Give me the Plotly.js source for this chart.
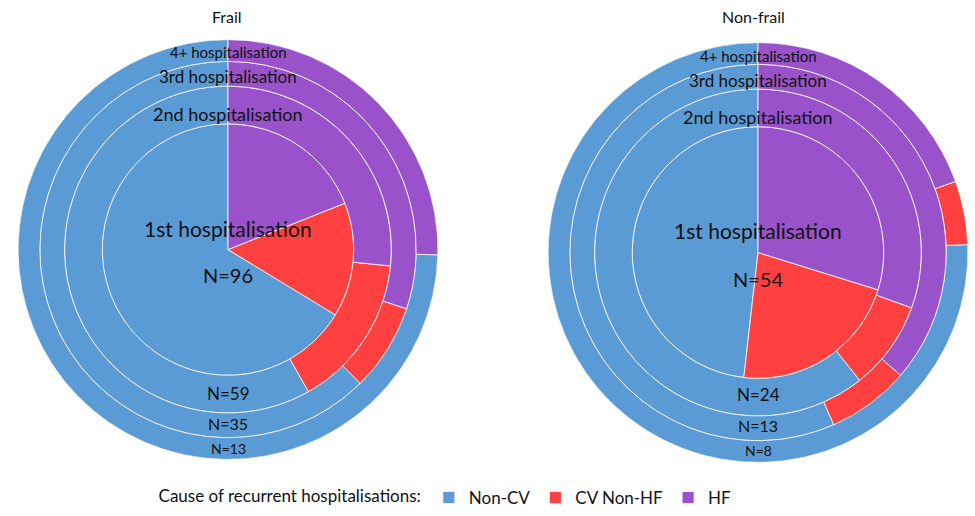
<!DOCTYPE html>
<html>
<head>
<meta charset="utf-8">
<script src="https://cdn.plot.ly/plotly-3.0.1.min.js"></script>
<style>html,body{margin:0;padding:0;background:#fff;}#chart{width:975px;height:516px;}</style>
</head>
<body>
<div id="chart"></div>
<script>
// ---- data (percent of hospitalisations at each level) ----
const levelNames = ['1st hospitalisation', '2nd hospitalisation', '3rd hospitalisation', '4+ hospitalisation'];
const categories = ['Non-CV', 'CV Non-HF', 'HF'];

const frailHF     = [19.0, 26.6, 30.1, 25.4];
const frailCV     = [14.7, 15.2, 7.5, 0.0];
const frailNonCV  = [66.3, 58.2, 62.4, 74.6];
const frailN      = [96, 59, 35, 13];

const nonfrailHF    = [29.8, 30.5, 36.3, 19.5];
const nonfrailCV    = [22.0, 8.8, 7.1, 4.9];
const nonfrailNonCV = [48.2, 60.7, 56.6, 75.6];
const nonfrailN     = [54, 24, 13, 8];

const groupTitles = ['Frail', 'Non-frail'];

// ---- styling / geometry ----
const colors = {'Non-CV': '#5B9BD5', 'CV Non-HF': '#FF4040', 'HF': '#9952C9'};
const ringOuter = [127, 165, 190, 212];
const FONT = 'Lato, "Liberation Sans", Arial, sans-serif';
const W = 975, H = 516;

function buildTraces(HF, CV, NonCV, subplot, showLegend) {
  // clockwise from 12 o'clock: HF, CV Non-HF, Non-CV
  const byCat = {'HF': HF, 'CV Non-HF': CV, 'Non-CV': NonCV};
  const order = ['HF', 'CV Non-HF', 'Non-CV'];
  const geo = {};
  order.forEach(c => geo[c] = {r: [], base: [], theta: [], width: []});
  for (let i = 0; i < levelNames.length; i++) {
    let start = 0;
    const inner = i === 0 ? 0 : ringOuter[i - 1];
    order.forEach(c => {
      const v = byCat[c][i];
      const w = v * 3.6;
      if (v > 0) {
        geo[c].r.push(ringOuter[i] - inner);
        geo[c].base.push(inner);
        geo[c].theta.push(start + w / 2);
        geo[c].width.push(w);
      }
      start += w;
    });
  }
  return categories.map(c => ({
    type: 'barpolar',
    name: c,
    subplot: subplot,
    r: geo[c].r, base: geo[c].base, theta: geo[c].theta, width: geo[c].width,
    marker: {color: colors[c], line: {color: 'rgba(238,238,238,0.95)', width: 1}},
    showlegend: showLegend,
    legendgroup: c,
    hoverinfo: 'skip'
  }));
}

const traces = [
  ...buildTraces(frailHF, frailCV, frailNonCV, 'polar', true),
  ...buildTraces(nonfrailHF, nonfrailCV, nonfrailNonCV, 'polar2', false)
];

function polarCfg(cx, cy) {
  const R = ringOuter[ringOuter.length - 1];
  return {
    domain: {x: [(cx - R) / W, (cx + R) / W], y: [(H - cy - R) / H, (H - cy + R) / H]},
    bgcolor: 'rgba(0,0,0,0)',
    radialaxis: {visible: false, range: [0, R]},
    angularaxis: {visible: false, direction: 'clockwise', rotation: 90},
    bargap: 0
  };
}

// label annotations (pixel positions of text centres)
function ann(text, px, py, size) {
  return {text: text, x: px / W, y: 1 - py / H, xref: 'paper', yref: 'paper',
          xanchor: 'center', yanchor: 'middle', showarrow: false,
          font: {family: FONT, size: size, color: '#111'}};
}
const topSizes = [21, 18, 17, 15];
const nSizes = [20, 17, 16, 14];
const frailTopY = [231, 115, 77, 53], frailNY = [278, 397, 428, 453];
const nfTopY = [233, 118, 81, 57], nfNY = [282, 398, 430, 455];

const annotations = [
  ann(groupTitles[0], 227, 17, 16),
  ann(groupTitles[1], 753, 17, 16)
];
levelNames.forEach((t, i) => {
  annotations.push(ann(t, 228, frailTopY[i], topSizes[i]));
  annotations.push(ann('N=' + frailN[i], 228, frailNY[i], nSizes[i]));
  annotations.push(ann(t, 758, nfTopY[i], topSizes[i]));
  annotations.push(ann('N=' + nonfrailN[i], 758, nfNY[i], nSizes[i]));
});

const layout = {
  width: W, height: H,
  margin: {l: 0, r: 0, t: 0, b: 0},
  paper_bgcolor: '#fff',
  font: {family: FONT, color: '#111'},
  polar: polarCfg(228, 252),
  polar2: polarCfg(758, 255),
  showlegend: true,
  legend: {
    orientation: 'h', x: 0.458, xanchor: 'center', y: 1 - 503 / H, yanchor: 'middle',
    title: {text: 'Cause of recurrent hospitalisations:', font: {size: 17, family: FONT}, side: 'left'},
    font: {size: 17, family: FONT, color: '#111'},
    itemwidth: 30, traceorder: 'normal', bgcolor: 'rgba(0,0,0,0)'
  },
  annotations: annotations,
  hovermode: false
};

Plotly.newPlot('chart', traces, layout, {displayModeBar: false, staticPlot: true});
</script>
</body>
</html>
